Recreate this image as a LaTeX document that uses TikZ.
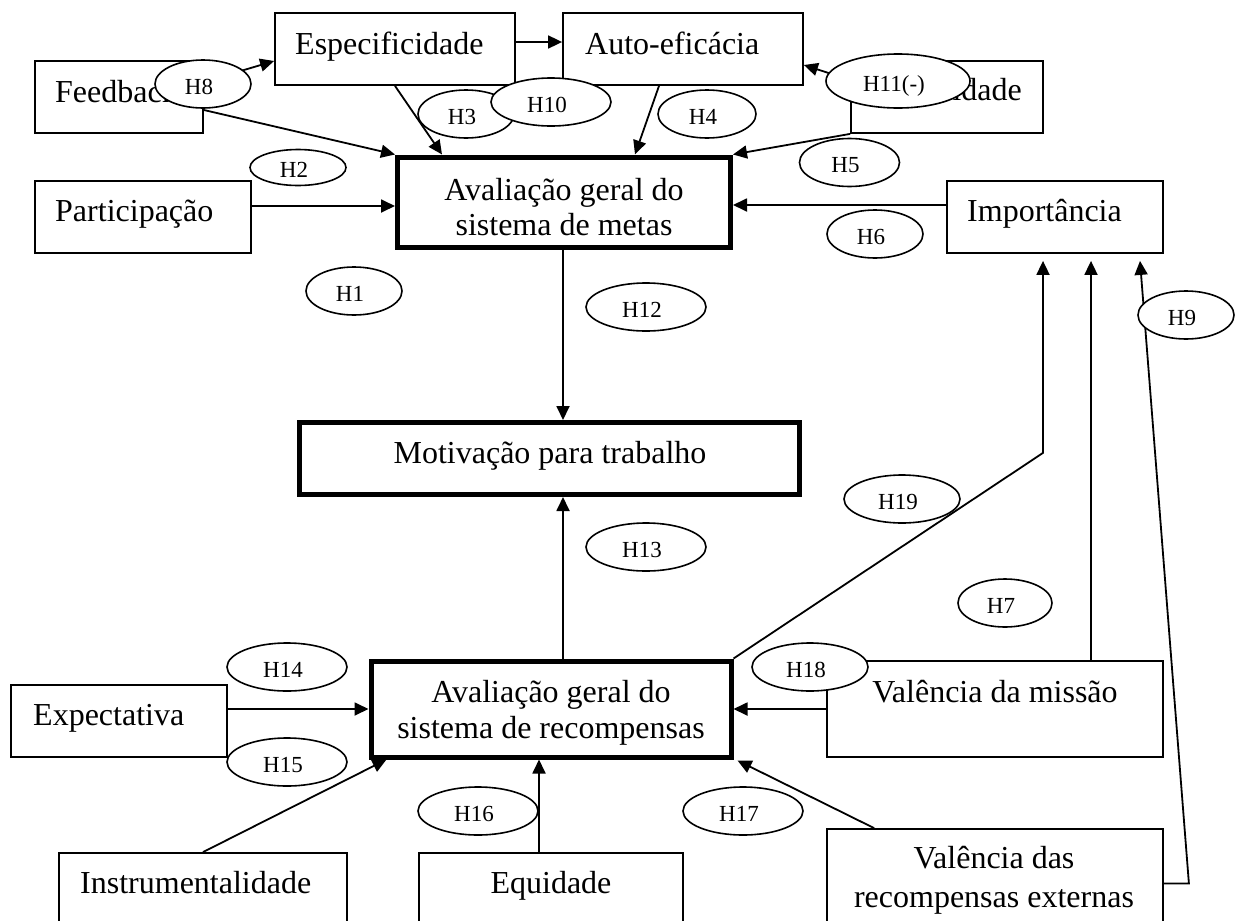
\documentclass[tikz,border=0pt]{standalone}
\usepackage{fontspec}
\setmainfont{Liberation Serif}
\usetikzlibrary{arrows.meta,calc,shapes.geometric}
\newcommand\hyplab[1]{\kern-8pt\raisebox{-10pt}{#1}}
\begin{document}
\begin{tikzpicture}[x=1pt,y=-1pt,
  box/.style={draw,line width=1.8pt,inner sep=0pt},
  thickbox/.style={draw,line width=5pt,inner sep=0pt},
  txt/.style={inner sep=0pt,font=\fontsize{32}{35}\selectfont},
  hyp/.style={ellipse,draw,fill=white,line width=1.6pt,inner sep=0pt,
    text height=0pt,text depth=0pt,font=\fontsize{23}{25}\selectfont},
  conn/.style={line width=1.8pt},
  arr/.style={conn,-{Triangle[length=14pt,width=13pt]}}]
\useasboundingbox (0,0) rectangle (1245,921);
\fill[white] (0,0) rectangle (1245,921);
\clip (0,0) rectangle (1245,921);

% boxes
\node[box,minimum width=168pt,minimum height=72pt] (fb) at (119,97) {};
\node[box,minimum width=240pt,minimum height=72pt] (esp) at (395,49) {};
\node[box,minimum width=240pt,minimum height=72pt] (auto) at (683,49) {};
\node[box,minimum width=192pt,minimum height=72pt] (dif) at (947,97) {};
\node[thickbox,minimum width=333pt,minimum height=90pt] (metas) at (564,202) {};
\node[box,minimum width=216pt,minimum height=72pt] (part) at (143,217) {};
\node[box,minimum width=216pt,minimum height=72pt] (imp) at (1055,217) {};
\node[thickbox,minimum width=500pt,minimum height=72pt] (mot) at (549.5,458.5) {};
\node[thickbox,minimum width=360pt,minimum height=96pt] (recomp) at (551,709) {};
\node[box,minimum width=216pt,minimum height=72pt] (exp) at (119,721) {};
\node[box,minimum width=336pt,minimum height=96pt] (mis) at (995,709) {};
\node[box,minimum width=288pt,minimum height=100pt] (ins) at (203,903) {};
\node[box,minimum width=264pt,minimum height=100pt] (equ) at (551,903) {};
\node[box,minimum width=336pt,minimum height=124pt] (ext) at (995,891) {};

% box texts
\node[txt,anchor=base west] (fbt) at (55,102) {Feedback};
\node[txt,anchor=base west] (espt) at (295,54) {Especificidade};
\node[txt,anchor=base west] (autot) at (585,54) {Auto-eficácia};
\node[txt,anchor=base east] (dift) at (1022,100) {Dificuldade};
\node[txt,anchor=base west] (partt) at (55,221) {Participação};
\node[txt,anchor=base west] (impt) at (967,221) {Importância};
\node[txt,anchor=base] (metast1) at (564,200) {Avaliação geral do};
\node[txt,anchor=base] (metast2) at (564,235) {sistema de metas};
\node[txt,anchor=base] (mott) at (550,463) {Motivação para trabalho};
\node[txt,anchor=base] (rect1) at (551,702) {Avaliação geral do};
\node[txt,anchor=base] (rect2) at (551,738) {sistema de recompensas};
\node[txt,anchor=base west] (expt) at (33,725) {Expectativa};
\node[txt,anchor=base] (mist) at (995,702) {Valência da missão};
\node[txt,anchor=base west] (inst) at (80,893) {Instrumentalidade};
\node[txt,anchor=base] (equt) at (551,893) {Equidade};
\node[txt,anchor=base] (extt1) at (994,868) {Valência das};
\node[txt,anchor=base] (extt2) at (994,907) {recompensas externas};

% connectors of the goal system
\draw[arr] ($(fb.east)+(0,-15)$) -- ($(esp.west)+(0,12)$);
\draw[arr] ($(fb.east)+(0,13)$) -- (metas.north west);
\draw[arr] (esp.south) -- ($(metas.north west)+(47,0)$);
\draw[arr] ($(esp.east)+(0,-7)$) -- ($(auto.west)+(0,-7)$);
\draw[arr] ($(auto.south)+(-24,0)$) -- ($(metas.north)+(71,0)$);
\draw[arr] ($(dif.west)+(0,-17)$) -- ($(auto.east)+(0,16)$);
\draw[arr] (dif.south west) -- (metas.north east);
\draw[arr] ($(part.east)+(0,-11)$) -- ($(metas.west)+(0,4)$);
\draw[arr] ($(imp.west)+(0,-12)$) -- ($(metas.east)+(0,3)$);
\draw[arr] ($(metas.south)+(-1,0)$) coordinate (m1) -- (m1 |- mot.north);

% connectors of the reward system
\draw[arr] ($(recomp.north)+(12,0)$) coordinate (r1) -- (r1 |- mot.south);
\draw[arr] (recomp.north east) -- ($(imp.south)+(-12,199)$) -- ($(imp.south)+(-12,7)$);
\draw[arr] ($(mis.north)+(96,0)$) -- ($(imp.south)+(36,7)$);
\draw[arr] ($(ext.east)+(0,-7.5)$) -- ++(25,0) -- ($(imp.south)+(85,7)$);
\draw[arr] ($(exp.east)+(0,-12)$) -- (recomp.west);
\draw[arr] (ins.north) -- ($(recomp.south west)+(18,0)$);
\draw[arr] ($(equ.north)+(-12,0)$) -- ($(recomp.south)+(-12,0)$);
\draw[arr] ($(ext.north west)+(48,0)$) -- ($(recomp.south east)+(4,1)$);
\draw[arr] (mis.west) -- (recomp.east);

% hypothesis labels
\node[hyp,minimum width=96pt,minimum height=48pt] (h8) at (203,84) {\hyplab{H8}};
\node[hyp,minimum width=96pt,minimum height=36pt] (h2) at (298,167.5) {\hyplab{H2}};
\node[hyp,minimum width=96pt,minimum height=48pt] (h3) at (466,114) {\hyplab{H3}};
\node[hyp,minimum width=120pt,minimum height=48pt] (h10) at (551,102) {\hyplab{H10}};
\node[hyp,minimum width=98pt,minimum height=48pt] (h4) at (707,114) {\hyplab{H4}};
\node[hyp,minimum width=144pt,minimum height=54pt] (h11) at (898,81) {\hyplab{H11(-)}};
\node[hyp,minimum width=100pt,minimum height=48pt] (h5) at (849.5,162.5) {\hyplab{H5}};
\node[hyp,minimum width=96pt,minimum height=48pt] (h6) at (875,234) {\hyplab{H6}};
\node[hyp,minimum width=96pt,minimum height=48pt] (h9) at (1186,315) {\hyplab{H9}};
\node[hyp,minimum width=96pt,minimum height=48pt] (h1) at (354,291) {\hyplab{H1}};
\node[hyp,minimum width=120pt,minimum height=48pt] (h12) at (646,307) {\hyplab{H12}};
\node[hyp,minimum width=120pt,minimum height=48pt] (h13) at (646,547) {\hyplab{H13}};
\node[hyp,minimum width=116pt,minimum height=48pt] (h19) at (902,499) {\hyplab{H19}};
\node[hyp,minimum width=94pt,minimum height=48pt] (h7) at (1005,603) {\hyplab{H7}};
\node[hyp,minimum width=116pt,minimum height=48pt] (h18) at (810,667) {\hyplab{H18}};
\node[hyp,minimum width=120pt,minimum height=48pt] (h14) at (287,667) {\hyplab{H14}};
\node[hyp,minimum width=120pt,minimum height=48pt] (h15) at (287,762) {\hyplab{H15}};
\node[hyp,minimum width=120pt,minimum height=48pt] (h16) at (478,811) {\hyplab{H16}};
\node[hyp,minimum width=120pt,minimum height=48pt] (h17) at (743,811) {\hyplab{H17}};
\end{tikzpicture}
\end{document}
